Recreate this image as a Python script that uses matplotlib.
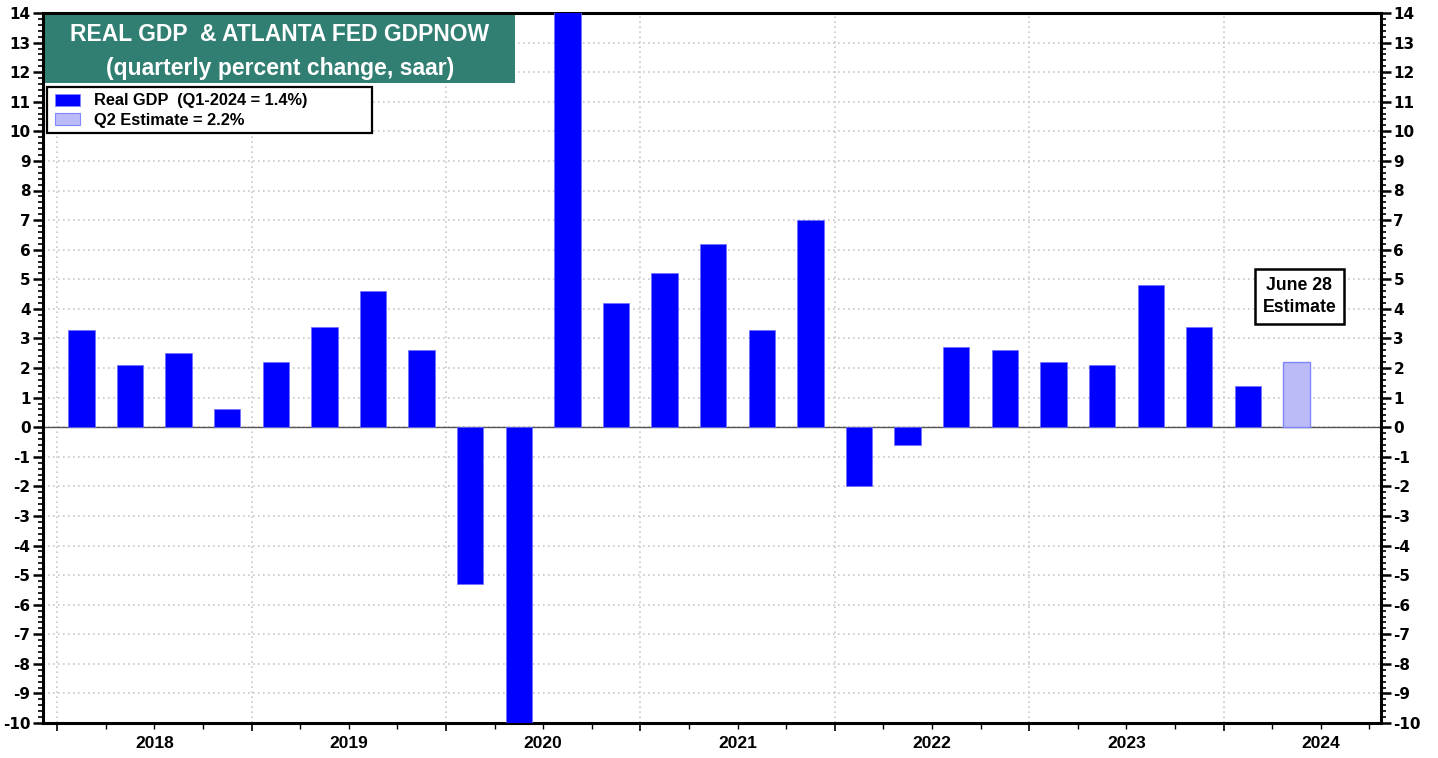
import matplotlib as mpl
import matplotlib.pyplot as plt
from matplotlib.patches import Patch, Rectangle
from matplotlib.ticker import MultipleLocator

mpl.use("Agg")

plt.rcParams["font.family"] = ["Liberation Sans", "DejaVu Sans"]
plt.rcParams["font.weight"] = "bold"
plt.rcParams["axes.unicode_minus"] = False

# Real GDP, quarterly percent change (saar), 2018Q1 - 2024Q1
years = ["2018", "2019", "2020", "2021", "2022", "2023", "2024"]
gdp = [3.3, 2.1, 2.5, 0.6,
       2.2, 3.4, 4.6, 2.6,
       -5.3, -28.0, 34.8, 4.2,
       5.2, 6.2, 3.3, 7.0,
       -2.0, -0.6, 2.7, 2.6,
       2.2, 2.1, 4.8, 3.4,
       1.4]
q2_estimate = 2.2

colors = {
    "bar": "#0000FF",
    "bar_edge": "#6F6FFF",
    "est": "#BBBBF7",
    "est_edge": "#7F86FF",
    "title": "#317E72",
    "grid": "#C8C8C8",
}

fig = plt.figure(figsize=(14.38, 7.58), dpi=100)
ax = fig.add_axes([43 / 1438, 35 / 758, 1338 / 1438, 710 / 758])

x_gdp = [i + 0.5 for i in range(len(gdp))]
x_est = len(gdp) + 0.5

ax.bar(x_gdp, gdp, width=0.54, color=colors["bar"], edgecolor=colors["bar_edge"],
       linewidth=0.5, zorder=3)
ax.bar([x_est], [q2_estimate], width=0.54, color=colors["est"],
       edgecolor=colors["est_edge"], linewidth=1, zorder=3)

ax.set_xlim(-0.29, 27.24)
ax.set_ylim(-10, 14)

# grid
ax.yaxis.set_major_locator(MultipleLocator(1))
ax.yaxis.set_minor_locator(MultipleLocator(0.2))
ax.set_xticks([4 * i for i in range(len(years))])
ax.xaxis.set_minor_locator(MultipleLocator(1))
ax.set_xticklabels([])
ax.grid(True, which="major", color=colors["grid"], linestyle=(0, (1, 2)),
        linewidth=1.2, zorder=0)
ax.axhline(0, color="#555555", linewidth=1, zorder=2)

# year labels centred in each year
for i, yr in enumerate(years):
    ax.text(4 * i + 2, -0.029, yr, transform=ax.get_xaxis_transform(),
            ha="center", va="center", fontsize=12.5, fontweight="bold")

for side in ["left", "right", "top", "bottom"]:
    ax.spines[side].set_linewidth(2.2)

ax.tick_params(axis="y", which="both", left=True, right=True,
               labelleft=True, labelright=True, direction="out", pad=2)
ax.tick_params(axis="y", which="major", length=7, width=1.8)
ax.tick_params(axis="y", which="minor", length=3.5, width=1.2)
ax.tick_params(axis="x", which="major", length=6, width=1.2, direction="out")
ax.tick_params(axis="x", which="minor", length=4, width=1, direction="out")
for lbl in ax.get_yticklabels():
    lbl.set_fontfamily("DejaVu Sans")
    lbl.set_fontweight("bold")
    lbl.set_fontsize(11)

# title box
ax.add_patch(Rectangle((0.0015, 0.9014), 0.3513, 0.0958, transform=ax.transAxes,
                       facecolor=colors["title"], edgecolor="none", zorder=5))
ax.text(0.177, 0.9695, "REAL GDP  & ATLANTA FED GDPNOW", transform=ax.transAxes,
        ha="center", va="center", color="white", fontsize=16.5, fontweight="bold",
        zorder=6)
ax.text(0.177, 0.9215, "(quarterly percent change, saar)", transform=ax.transAxes,
        ha="center", va="center", color="white", fontsize=16.5, fontweight="bold",
        zorder=6)

# legend with a hand-sized frame
ax.add_patch(Rectangle((0.003, 0.831), 0.2429, 0.0648, transform=ax.transAxes,
                       facecolor="white", edgecolor="black", linewidth=1.6,
                       zorder=5))
handles = [
    Patch(facecolor=colors["bar"], edgecolor=colors["est_edge"], linewidth=0.6),
    Patch(facecolor=colors["est"], edgecolor=colors["est_edge"], linewidth=0.8),
]
leg = ax.legend(handles, ["Real GDP  (Q1-2024 = 1.4%)", "Q2 Estimate = 2.2%"],
                loc="upper left", bbox_to_anchor=(0.009, 0.887),
                borderaxespad=0, frameon=False,
                prop={"size": 11.8, "weight": "bold"},
                handlelength=1.5, handleheight=0.75, labelspacing=0.3,
                borderpad=0, handletextpad=0.85)
leg.set_zorder(6)

ax.text(25.56, 4.42, "June 28\nEstimate", ha="center", va="center",
        fontsize=12.7, fontweight="bold", linespacing=1.4, zorder=6,
        bbox=dict(boxstyle="square,pad=0.45", facecolor="white",
                  edgecolor="black", linewidth=1.8))

fig.savefig("out.png", dpi=100)
plt.close(fig)
